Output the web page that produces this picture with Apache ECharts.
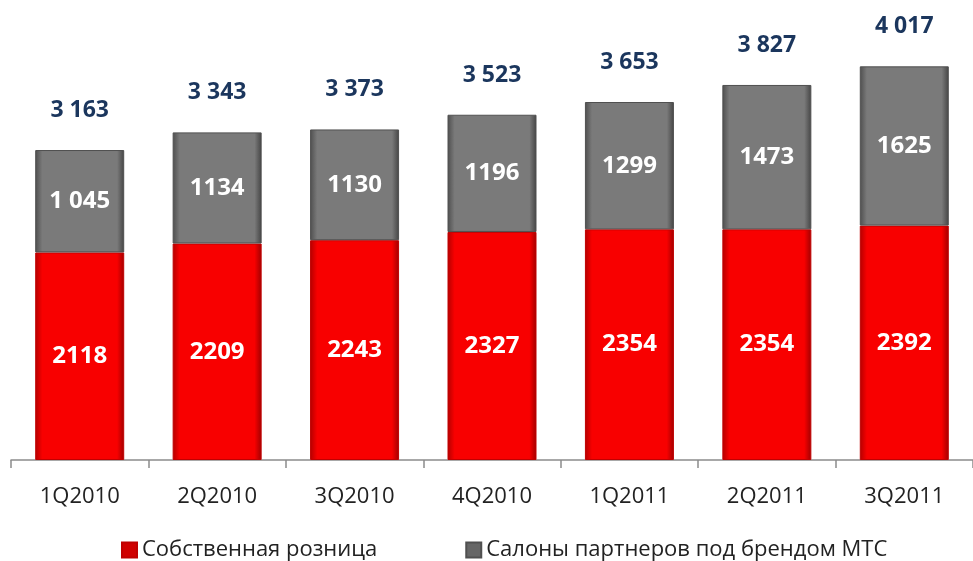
<!DOCTYPE html>
<html>
<head>
<meta charset="utf-8">
<script src="https://cdn.jsdelivr.net/npm/echarts@6/dist/echarts.min.js"></script>
<style>
  html, body { margin: 0; padding: 0; background: #fff; }
  #chart { width: 973px; height: 561px; }
</style>
</head>
<body>
<div id="chart"></div>
<script>
const QUARTERS = ['1Q2010', '2Q2010', '3Q2010', '4Q2010', '1Q2011', '2Q2011', '3Q2011']
const OWN_RETAIL = [2118, 2209, 2243, 2327, 2354, 2354, 2392]
const PARTNERS = [1045, 1134, 1130, 1196, 1299, 1473, 1625]
const PARTNER_LABELS = ['1 045', '1134', '1130', '1196', '1299', '1473', '1625']
const TOTALS = [3163, 3343, 3373, 3523, 3653, 3827, 4017]
const TOTAL_LABELS = ['3 163', '3 343', '3 373', '3 523', '3 653', '3 827', '4 017']

const FONT = '"Open Sans", "Noto Sans", sans-serif'

const redFill = new echarts.graphic.LinearGradient(0, 0, 1, 0, [
  { offset: 0, color: '#b30000' },
  { offset: 0.08, color: '#f80000' },
  { offset: 0.92, color: '#f80000' },
  { offset: 1, color: '#a00000' },
])
const greyFill = new echarts.graphic.LinearGradient(0, 0, 1, 0, [
  { offset: 0, color: '#4e4e4e' },
  { offset: 0.08, color: '#7a7a7a' },
  { offset: 0.92, color: '#7a7a7a' },
  { offset: 1, color: '#444444' },
])

const chart = echarts.init(document.getElementById('chart'))
chart.setOption({
  animation: false,
  grid: { left: 11, width: 973, top: 19, bottom: 101 },
  legend: {
    bottom: -5,
    left: 116,
    itemWidth: 15,
    itemHeight: 15,
    itemGap: 88,
    textStyle: { fontFamily: FONT, fontSize: 22, color: '#222' },
    data: [
      { name: 'Собственная розница', icon: 'rect', itemStyle: { color: '#d00000' } },
      { name: 'Салоны партнеров под брендом МТС', icon: 'rect', itemStyle: { color: '#666' } },
    ],
  },
  xAxis: {
    type: 'category',
    data: QUARTERS,
    axisLine: { lineStyle: { color: '#8c8c8c', width: 1.5 } },
    axisTick: { show: true, length: 8, lineStyle: { color: '#8c8c8c', width: 1.5 } },
    axisLabel: { fontFamily: FONT, fontSize: 22, color: '#222', margin: 26 },
  },
  yAxis: {
    type: 'value',
    min: 0,
    max: 4500,
    show: false,
    splitLine: { show: false },
  },
  series: [
    {
      name: 'Собственная розница',
      type: 'bar',
      stack: 'total',
      barWidth: 89,
      data: OWN_RETAIL,
      itemStyle: { color: redFill, borderColor: '#c00000', borderWidth: 1 },
      label: {
        show: true,
        position: 'inside',
        color: '#fff',
        fontFamily: FONT,
        fontWeight: 'bold',
        fontSize: 24,
      },
    },
    {
      name: 'Салоны партнеров под брендом МТС',
      type: 'bar',
      stack: 'total',
      barWidth: 89,
      data: PARTNERS,
      itemStyle: { color: greyFill, borderColor: '#505050', borderWidth: 1 },
      label: {
        show: true,
        position: 'inside',
        color: '#fff',
        fontFamily: FONT,
        fontWeight: 'bold',
        fontSize: 24,
        formatter: (p) => PARTNER_LABELS[p.dataIndex],
      },
    },
    {
      name: 'total',
      type: 'scatter',
      data: TOTALS,
      symbolSize: 2,
      itemStyle: { color: 'rgba(0,0,0,0)', opacity: 1 },
      label: {
        show: true,
        position: 'top',
        distance: 27,
        color: '#1b365d',
        fontFamily: FONT,
        fontWeight: 'bold',
        fontSize: 23,
        formatter: (p) => TOTAL_LABELS[p.dataIndex],
      },
      silent: true,
      z: 5,
    },
  ],
})
</script>
</body>
</html>
